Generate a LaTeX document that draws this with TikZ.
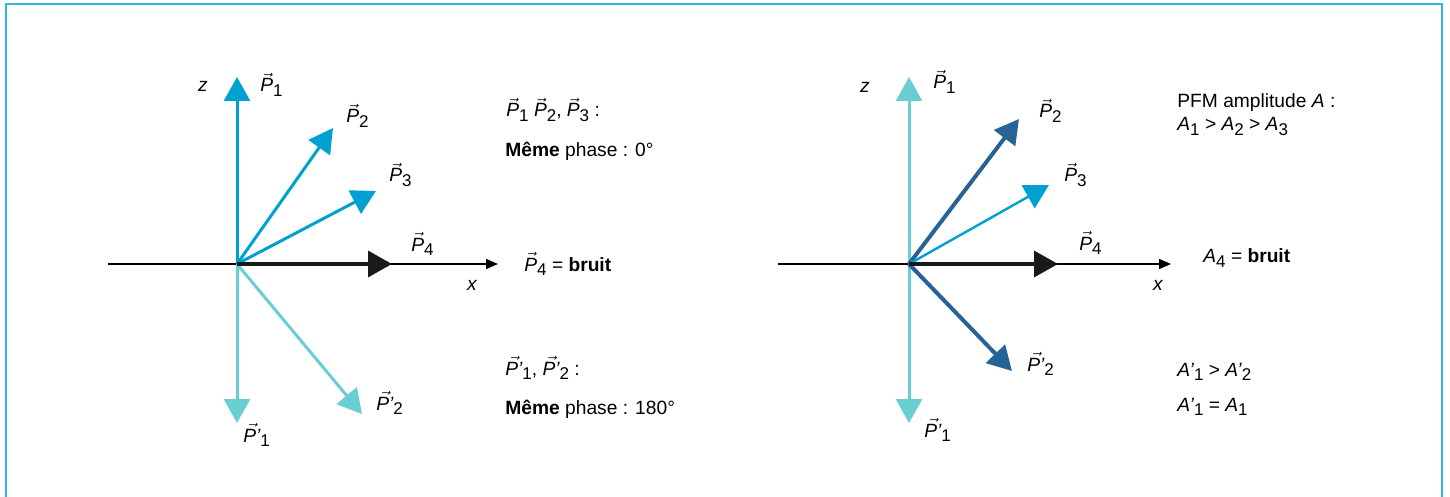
\documentclass[tikz,border=0pt]{standalone}
\usepackage{amsmath}
\usepackage{fontspec}
\setmainfont{Liberation Sans}
\usetikzlibrary{arrows.meta}
\definecolor{framec}{RGB}{48,182,222}
\definecolor{pblue}{RGB}{0,160,208}
\definecolor{pteal}{RGB}{104,206,210}
\definecolor{pdark}{RGB}{38,100,152}
\newcommand\sbx[1]{\raisebox{-0.45ex}{\fontsize{8.5pt}{9pt}\selectfont #1}}
\newcommand\vP[2][]{\ensuremath{\vec{\text{\itshape P#1}}}\sbx{#2}}
\newcommand\iA[2][]{\textit{A#1}\sbx{#2}}
\begin{document}
\begin{tikzpicture}[x=0.5pt,y=-0.5pt,
  lbl/.style={inner sep=0pt,anchor=base west,font=\fontsize{9.6pt}{11pt}\selectfont},
  axlbl/.style={inner sep=0pt,anchor=center,font=\fontsize{9.6pt}{11pt}\selectfont\itshape},
  axis/.style={line width=0.65pt,-{Triangle[length=6pt,width=5pt]}},
  vec/.style={line width=1.5pt,-{Triangle[length=12pt,width=13pt]}},
  frameline/.style={draw=framec,line width=1pt}]
\useasboundingbox (0,0) rectangle (1450,497);
\draw[frameline] (5.5,498) -- (5.5,4.5) -- (1442,4.5) -- (1442,498);
% ---------- left diagram ----------
\coordinate (O1) at (237,264);
\coordinate (xa1) at (108,264);
\coordinate (xb1) at (498,264);
\coordinate (t1) at (237,77);
\coordinate (t2) at (333,128);
\coordinate (t3) at (376,191);
\coordinate (t4) at (392,264);
\coordinate (tp1) at (237,423);
\coordinate (tp2) at (362,414);
\draw[axis] (xa1) -- (xb1);
\draw[vec,pblue] (O1) -- (t1);
\draw[vec,pblue] (O1) -- (t2);
\draw[vec,pblue] (O1) -- (t3);
\draw[vec,pteal] (O1) -- (tp1);
\draw[vec,pteal] (O1) -- (tp2);
\draw[vec,black!90,line width=1.75pt] (O1) -- (t4);
\node[axlbl] (z1) at (203,86) {z};
\node[axlbl] (x1) at (472,285) {x};
\node[lbl] (l1) at (260,92) {\vP{1}};
\node[lbl] (l2) at (346,123) {\vP{2}};
\node[lbl] (l3) at (389,182) {\vP{3}};
\node[lbl] (l4) at (411,251) {\vP{4}};
\node[lbl] (lp1) at (243,442) {\vP[’]{1}};
\node[lbl] (lp2) at (376,410) {\vP[’]{2}};
\node[lbl] (ta) at (506,117) {\vP{1} \vP{2}, \vP{3} :};
\node[lbl] (tb) at (505,157) {\textbf{Même} phase : 0°};
\node[lbl] (tc) at (524,271) {\vP{4} = \textbf{bruit}};
\node[lbl] (td) at (505,375) {\vP[’]{1}, \vP[’]{2} :};
\node[lbl] (te) at (505,414) {\textbf{Même} phase : 180°};
% ---------- right diagram ----------
\coordinate (O2) at (909,264);
\coordinate (xa2) at (778,264);
\coordinate (xb2) at (1171,264);
\coordinate (u1) at (909,77);
\coordinate (u2) at (1019,119);
\coordinate (u3) at (1049,185);
\coordinate (u4) at (1058,264);
\coordinate (up1) at (909,423);
\coordinate (up2) at (1012,371);
\draw[axis] (xa2) -- (xb2);
\draw[vec,pteal] (O2) -- (u1);
\draw[vec,pteal] (O2) -- (up1);
\draw[vec,pdark,line width=2pt] (O2) -- (u2);
\draw[vec,pdark,line width=2pt] (O2) -- (up2);
\draw[vec,pblue,line width=1.2pt] (O2) -- (u3);
\draw[vec,black!90,line width=1.75pt] (O2) -- (u4);
\node[axlbl] (z2) at (865,87) {z};
\node[axlbl] (x2) at (1158,285) {x};
\node[lbl] (m1) at (933,89) {\vP{1}};
\node[lbl] (m2) at (1039,118) {\vP{2}};
\node[lbl] (m3) at (1064,182) {\vP{3}};
\node[lbl] (m4) at (1079,250) {\vP{4}};
\node[lbl] (mp1) at (924,437) {\vP[’]{1}};
\node[lbl] (mp2) at (1027,371) {\vP[’]{2}};
\node[lbl] (sa) at (1177,108) {PFM amplitude \textit{A} :};
\node[lbl] (sb) at (1177,131) {\iA{1} > \iA{2} > \iA{3}};
\node[lbl] (sc) at (1203,263) {\iA{4} = \textbf{bruit}};
\node[lbl] (sd) at (1177,376) {\iA[’]{1} > \iA[’]{2}};
\node[lbl] (se) at (1177,411) {\iA[’]{1} = \iA{1}};
\end{tikzpicture}
\end{document}
